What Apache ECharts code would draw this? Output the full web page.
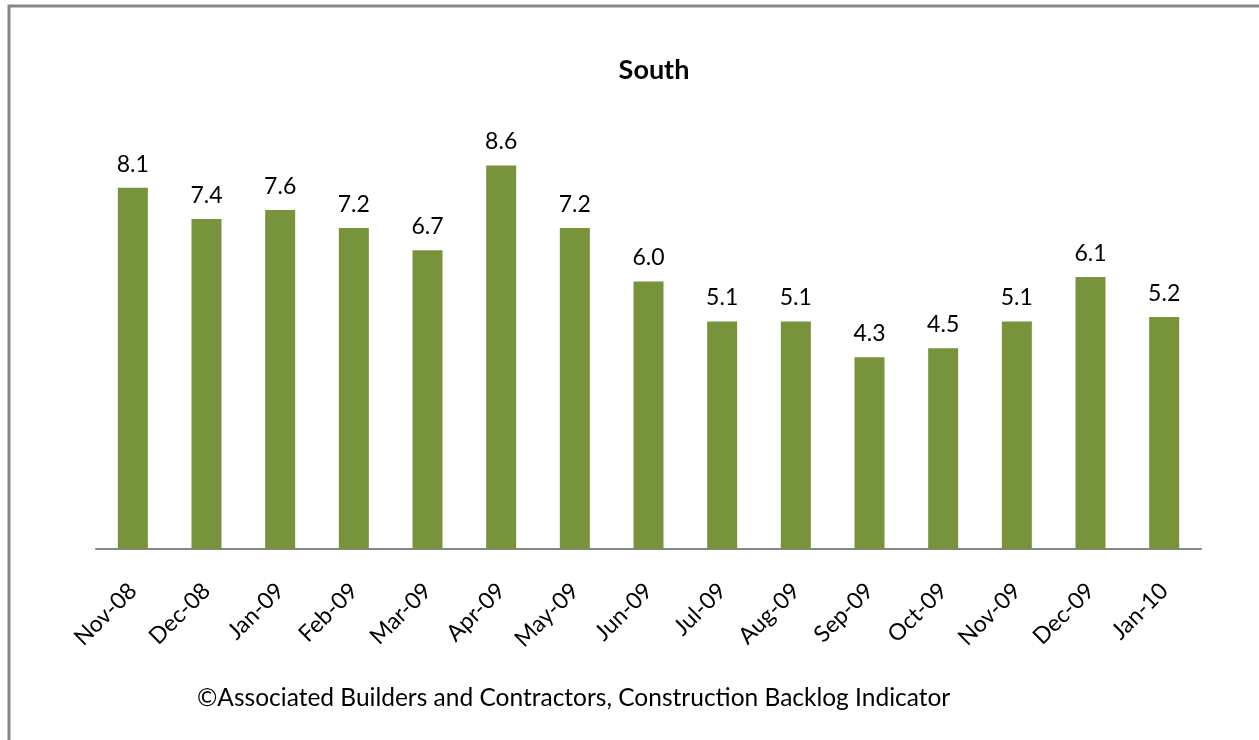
<!DOCTYPE html>
<html>
<head>
<meta charset="utf-8">
<script src="https://cdn.jsdelivr.net/npm/echarts@6/dist/echarts.min.js"></script>
<style>
html,body{margin:0;padding:0;background:#fff;}
#chart{width:1259px;height:740px;}
</style>
</head>
<body>
<div id="chart"></div>
<script>
const categories = ['Nov-08','Dec-08','Jan-09','Feb-09','Mar-09','Apr-09','May-09','Jun-09','Jul-09','Aug-09','Sep-09','Oct-09','Nov-09','Dec-09','Jan-10'];
const values = [8.1, 7.4, 7.6, 7.2, 6.7, 8.6, 7.2, 6.0, 5.1, 5.1, 4.3, 4.5, 5.1, 6.1, 5.2];
const titleText = 'South';
const footerText = '\u00A9Associated Builders and Contractors, Construction Backlog Indicator';

const FONT = 'Lato, "Open Sans", sans-serif';
const chart = echarts.init(document.getElementById('chart'), null, {renderer: 'canvas'});
chart.setOption({
  backgroundColor: '#ffffff',
  animation: false,
  title: {
    text: titleText,
    left: 649,
    top: 52,
    textAlign: 'center',
    textStyle: {fontFamily: FONT, fontSize: 27, fontWeight: 'bold', color: '#000'}
  },
  grid: {left: 96, right: 58, top: 103, bottom: 191, containLabel: false},
  xAxis: {
    type: 'category',
    data: categories,
    axisLine: {lineStyle: {color: '#868686', width: 2}},
    axisTick: {show: false},
    axisLabel: {
      rotate: 45,
      interval: 0,
      margin: 38,
      fontFamily: FONT,
      fontSize: 23,
      color: '#000'
    }
  },
  yAxis: {
    type: 'value',
    min: 0,
    max: 10,
    show: false,
    splitLine: {show: false}
  },
  series: [{
    type: 'bar',
    data: values,
    barWidth: 30,
    itemStyle: {color: '#77933C'},
    label: {
      show: true,
      position: 'top',
      distance: 12,
      fontFamily: FONT,
      fontSize: 23,
      color: '#000',
      formatter: p => p.value.toFixed(1)
    }
  }],
  graphic: [
    {
      type: 'rect',
      shape: {x: 9, y: 6, width: 1300, height: 800},
      style: {fill: 'none', stroke: '#878787', lineWidth: 3},
      silent: true
    },
    {
      type: 'text',
      left: 197,
      top: 686,
      style: {text: footerText, fontFamily: FONT, fontSize: 24.5, fill: '#000'}
    }
  ]
});
</script>
</body>
</html>
